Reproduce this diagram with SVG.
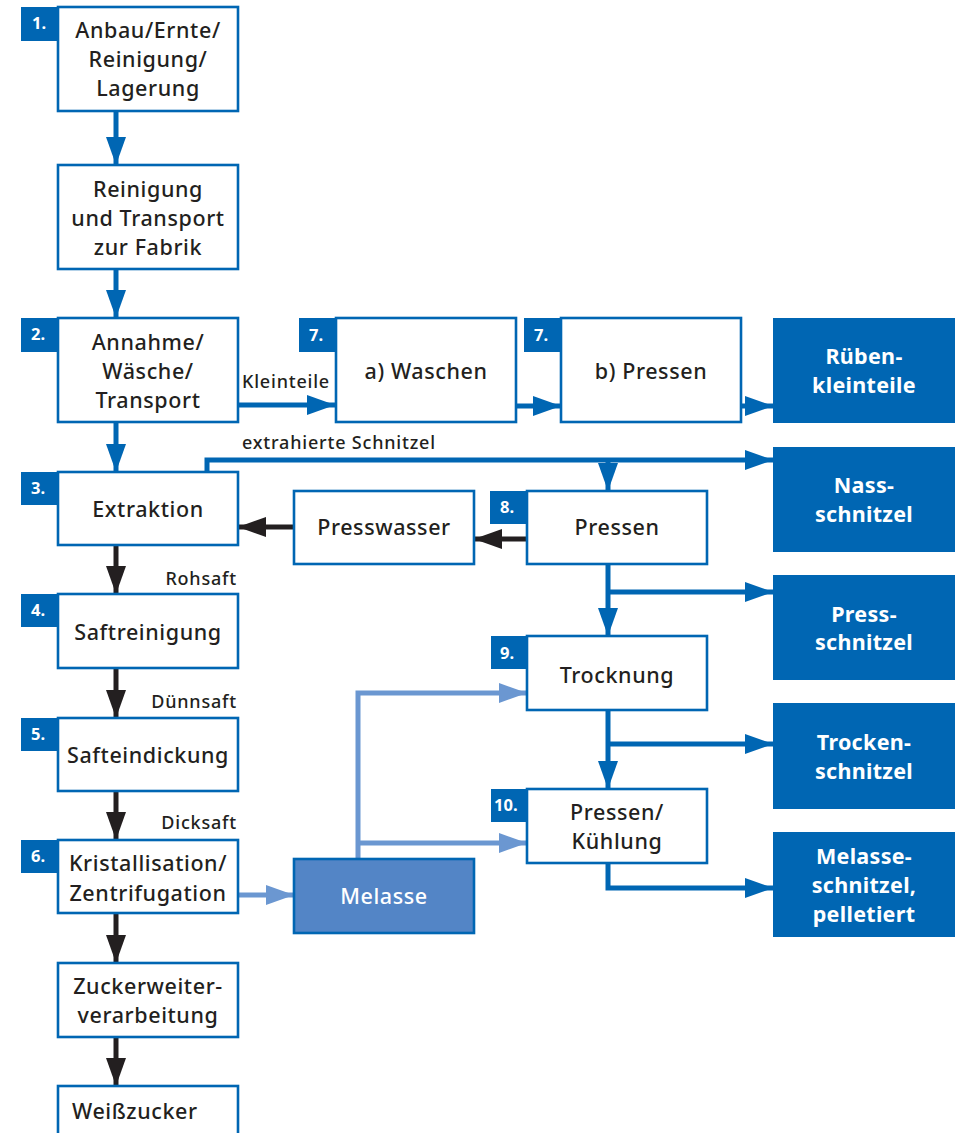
<svg xmlns="http://www.w3.org/2000/svg" width="960" height="1133" viewBox="0 0 960 1133">
<style>
.box{fill:#fff;stroke:#0066b3;stroke-width:2.6}
.out{fill:#0066b3}
.badge{fill:#0066b3}
.mel{fill:#5385c6;stroke:#0066b3;stroke-width:2.6}
text{font-family:"Noto Sans","Open Sans","Liberation Sans",sans-serif}
.t{font-size:21.5px;fill:#231f20;text-anchor:middle;font-weight:500;letter-spacing:0.6px}
.ts{font-size:21.5px;fill:#231f20;text-anchor:start;font-weight:500;letter-spacing:0.6px}
.w{font-size:21.5px;fill:#fff;text-anchor:middle;font-weight:700;letter-spacing:0.3px}
.wm{font-size:21.5px;fill:#fff;text-anchor:middle;font-weight:500;letter-spacing:0.6px}
.b{font-size:16.5px;fill:#fff;font-weight:700}
.l{font-size:18px;fill:#231f20;font-weight:500;letter-spacing:0.8px}
.le{font-size:18px;fill:#231f20;font-weight:500;letter-spacing:0.8px;text-anchor:end}
.cb{fill:none;stroke:#0066b3;stroke-width:5}
.ck{fill:none;stroke:#231f20;stroke-width:5}
.cl{fill:none;stroke:#6b97d1;stroke-width:5}
</style>
<defs>
<marker id="ab" markerUnits="userSpaceOnUse" markerWidth="28" markerHeight="20" refX="28" refY="10" orient="auto"><path d="M0,0 L28,10 L0,20 z" fill="#0066b3"/></marker>
<marker id="ak" markerUnits="userSpaceOnUse" markerWidth="28" markerHeight="20" refX="28" refY="10" orient="auto"><path d="M0,0 L28,10 L0,20 z" fill="#231f20"/></marker>
<marker id="al" markerUnits="userSpaceOnUse" markerWidth="28" markerHeight="20" refX="28" refY="10" orient="auto"><path d="M0,0 L28,10 L0,20 z" fill="#6b97d1"/></marker>
</defs>
<rect width="960" height="1133" fill="#fff"/>

<g id="connectors">
<path class="cb" d="M116,111 V165" marker-end="url(#ab)"/>
<path class="cb" d="M116,269 V318" marker-end="url(#ab)"/>
<path class="cb" d="M116,422 V472" marker-end="url(#ab)"/>
<path class="cb" d="M238,405 H335" marker-end="url(#ab)"/>
<path class="cb" d="M516,406 H561" marker-end="url(#ab)"/>
<path class="cb" d="M741,406 H773" marker-end="url(#ab)"/>
<path class="cb" d="M207,472 V460 H773" marker-end="url(#ab)"/>
<path class="cb" d="M608,460 V491" marker-end="url(#ab)"/>
<path class="ck" d="M527,539 H474" marker-end="url(#ak)"/>
<path class="ck" d="M294,527 H238" marker-end="url(#ak)"/>
<path class="ck" d="M116,545 V594" marker-end="url(#ak)"/>
<path class="ck" d="M116,668 V718" marker-end="url(#ak)"/>
<path class="ck" d="M116,791 V840" marker-end="url(#ak)"/>
<path class="ck" d="M116,913 V963" marker-end="url(#ak)"/>
<path class="ck" d="M116,1037 V1086" marker-end="url(#ak)"/>
<path class="cl" d="M238,895 H294" marker-end="url(#al)"/>
<path class="cl" d="M358,858 V693 H527" marker-end="url(#al)"/>
<path class="cl" d="M358,843 H527" marker-end="url(#al)"/>
<path class="cb" d="M608,564 V636" marker-end="url(#ab)"/>
<path class="cb" d="M608,592 H773" marker-end="url(#ab)"/>
<path class="cb" d="M608,710 V789" marker-end="url(#ab)"/>
<path class="cb" d="M608,744 H773" marker-end="url(#ab)"/>
<path class="cb" d="M608,863 V888 H773" marker-end="url(#ab)"/>
<text class="l" x="242" y="388">Kleinteile</text>
<text class="l" x="242" y="449">extrahierte Schnitzel</text>
<text class="le" x="237" y="585">Rohsaft</text>
<text class="le" x="237" y="708">Dünnsaft</text>
<text class="le" x="237" y="829">Dicksaft</text>
</g>

<g id="n1">
<rect class="badge" x="21" y="7" width="37" height="34"/>
<text class="b" x="32" y="29">1.</text>
<rect class="box" x="58" y="7" width="180" height="104"/>
<text class="t" x="148" y="38">Anbau/Ernte/</text>
<text class="t" x="148" y="67">Reinigung/</text>
<text class="t" x="148" y="96">Lagerung</text>
</g>
<g id="nReinigung">
<rect class="box" x="58" y="165" width="180" height="104"/>
<text class="t" x="148" y="197">Reinigung</text>
<text class="t" x="148" y="226">und Transport</text>
<text class="t" x="148" y="255">zur Fabrik</text>
</g>
<g id="n2">
<rect class="badge" x="21" y="318" width="37" height="34"/>
<text class="b" x="31" y="340">2.</text>
<rect class="box" x="58" y="318" width="180" height="104"/>
<text class="t" x="148" y="350">Annahme/</text>
<text class="t" x="148" y="379">Wäsche/</text>
<text class="t" x="148" y="408">Transport</text>
</g>
<g id="n7a">
<rect class="badge" x="299" y="318" width="37" height="34"/>
<text class="b" x="309" y="341">7.</text>
<rect class="box" x="336" y="318" width="180" height="104"/>
<text class="t" x="426" y="379">a) Waschen</text>
</g>
<g id="n7b">
<rect class="badge" x="524" y="318" width="37" height="34"/>
<text class="b" x="534" y="341">7.</text>
<rect class="box" x="561" y="318" width="180" height="104"/>
<text class="t" x="651" y="379">b) Pressen</text>
</g>
<g id="nRuebenkleinteile">
<rect class="out" x="773" y="318" width="182" height="105"/>
<text class="w" x="864" y="364">Rüben-</text>
<text class="w" x="864" y="393">kleinteile</text>
</g>
<g id="n3">
<rect class="badge" x="21" y="472" width="37" height="33"/>
<text class="b" x="31" y="494">3.</text>
<rect class="box" x="58" y="472" width="180" height="73"/>
<text class="t" x="148" y="517">Extraktion</text>
</g>
<g id="nPresswasser">
<rect class="box" x="294" y="491" width="180" height="73"/>
<text class="t" x="384" y="535">Presswasser</text>
</g>
<g id="n8">
<rect class="badge" x="490" y="491" width="37" height="33"/>
<text class="b" x="500" y="513">8.</text>
<rect class="box" x="527" y="491" width="180" height="73"/>
<text class="t" x="617" y="535">Pressen</text>
</g>
<g id="nNassschnitzel">
<rect class="out" x="773" y="447" width="182" height="105"/>
<text class="w" x="864" y="493">Nass-</text>
<text class="w" x="864" y="522">schnitzel</text>
</g>
<g id="n4">
<rect class="badge" x="21" y="594" width="37" height="33"/>
<text class="b" x="31" y="616">4.</text>
<rect class="box" x="58" y="594" width="180" height="74"/>
<text class="t" x="148" y="640">Saftreinigung</text>
</g>
<g id="nPressschnitzel">
<rect class="out" x="773" y="575" width="182" height="105"/>
<text class="w" x="864" y="622">Press-</text>
<text class="w" x="864" y="650">schnitzel</text>
</g>
<g id="n9">
<rect class="badge" x="491" y="636" width="36" height="33"/>
<text class="b" x="500" y="659">9.</text>
<rect class="box" x="527" y="636" width="180" height="74"/>
<text class="t" x="617" y="683">Trocknung</text>
</g>
<g id="n5">
<rect class="badge" x="21" y="718" width="37" height="33"/>
<text class="b" x="31" y="740">5.</text>
<rect class="box" x="58" y="718" width="180" height="73"/>
<text class="t" x="148" y="763">Safteindickung</text>
</g>
<g id="nTrockenschnitzel">
<rect class="out" x="773" y="703" width="182" height="106"/>
<text class="w" x="864" y="750">Trocken-</text>
<text class="w" x="864" y="779">schnitzel</text>
</g>
<g id="n10">
<rect class="badge" x="491" y="789" width="36" height="33"/>
<text class="b" x="494" y="811">10.</text>
<rect class="box" x="527" y="789" width="180" height="74"/>
<text class="t" x="617" y="820">Pressen/</text>
<text class="t" x="617" y="849">Kühlung</text>
</g>
<g id="nMelasseschnitzel">
<rect class="out" x="773" y="832" width="182" height="105"/>
<text class="w" x="864" y="864">Melasse-</text>
<text class="w" x="864" y="893">schnitzel,</text>
<text class="w" x="864" y="922">pelletiert</text>
</g>
<g id="n6">
<rect class="badge" x="21" y="840" width="37" height="33"/>
<text class="b" x="31" y="862">6.</text>
<rect class="box" x="58" y="840" width="180" height="73"/>
<text class="t" x="148" y="871">Kristallisation/</text>
<text class="t" x="148" y="901">Zentrifugation</text>
</g>
<g id="nMelasse">
<rect class="mel" x="294" y="859" width="180" height="74"/>
<text class="wm" x="384" y="904">Melasse</text>
</g>
<g id="nZucker">
<rect class="box" x="58" y="963" width="180" height="74"/>
<text class="t" x="148" y="994">Zuckerweiter-</text>
<text class="t" x="148" y="1023">verarbeitung</text>
</g>
<g id="nWeisszucker">
<rect class="box" x="58" y="1086" width="180" height="74"/>
<text class="ts" x="72" y="1119">Weißzucker</text>
</g>
</svg>
